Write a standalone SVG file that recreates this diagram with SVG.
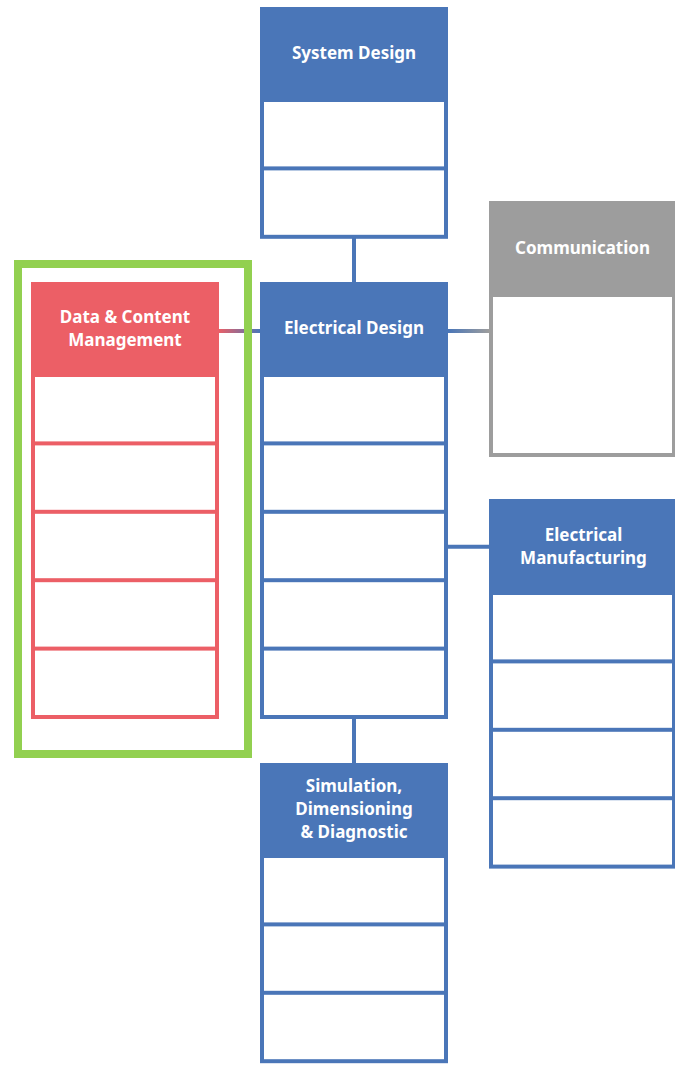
<svg xmlns="http://www.w3.org/2000/svg" width="675" height="1066" viewBox="0 0 675 1066">
<style>
.blue{fill:#4A76B8}
.red{fill:#EC5F66}
.gray{fill:#9D9D9D}
.cell{fill:#FFFFFF}
.t{font-family:"Noto Sans","Open Sans","DejaVu Sans",sans-serif;font-weight:700;font-size:17px;fill:#FFFFFF;text-anchor:middle}
</style>
<defs>
<linearGradient id="gRB" gradientUnits="userSpaceOnUse" x1="218" y1="0" x2="260" y2="0">
<stop offset="0" stop-color="#EC5F66"/><stop offset="1" stop-color="#4A76B8"/>
</linearGradient>
<linearGradient id="gBG" gradientUnits="userSpaceOnUse" x1="448" y1="0" x2="489" y2="0">
<stop offset="0" stop-color="#4A76B8"/><stop offset="1" stop-color="#9D9D9D"/>
</linearGradient>
</defs>
<rect width="675" height="1066" fill="#FFFFFF"/>
<g id="connectors">
<line x1="354" y1="238" x2="354" y2="283" stroke="#4A76B8" stroke-width="4"/>
<line x1="354" y1="718" x2="354" y2="764" stroke="#4A76B8" stroke-width="4"/>
<line x1="218" y1="331" x2="261" y2="331" stroke="url(#gRB)" stroke-width="4"/>
<line x1="447" y1="331" x2="490" y2="331" stroke="url(#gBG)" stroke-width="4"/>
<line x1="447" y1="546.7" x2="490" y2="546.7" stroke="#4A76B8" stroke-width="4"/>
</g>
<g id="highlight">
<rect x="18" y="264" width="230" height="490" fill="none" stroke="#92D050" stroke-width="8"/>
</g>
<g id="system-design">
<rect class="blue" x="260" y="7" width="188" height="231.8"/>
<rect class="cell" x="264" y="102" width="180" height="64.4"/>
<rect class="cell" x="264" y="170.4" width="180" height="64.4"/>
<text class="t" x="354" y="59">System Design</text>
</g>
<g id="electrical-design">
<rect class="blue" x="260" y="282" width="188" height="437"/>
<rect class="cell" x="264" y="377" width="180" height="64.4"/>
<rect class="cell" x="264" y="445.4" width="180" height="64.4"/>
<rect class="cell" x="264" y="513.8" width="180" height="64.4"/>
<rect class="cell" x="264" y="582.2" width="180" height="64.4"/>
<rect class="cell" x="264" y="650.6" width="180" height="64.4"/>
<text class="t" x="354" y="334">Electrical Design</text>
</g>
<g id="data-content-management">
<rect class="red" x="31" y="282" width="188" height="437"/>
<rect class="cell" x="35" y="377" width="180" height="64.4"/>
<rect class="cell" x="35" y="445.4" width="180" height="64.4"/>
<rect class="cell" x="35" y="513.8" width="180" height="64.4"/>
<rect class="cell" x="35" y="582.2" width="180" height="64.4"/>
<rect class="cell" x="35" y="650.6" width="180" height="64.4"/>
<text class="t" x="125" y="322.5">Data &amp; Content</text>
<text class="t" x="125" y="345.5">Management</text>
</g>
<g id="communication">
<rect class="gray" x="489" y="201" width="187" height="256"/>
<rect class="cell" x="493" y="297" width="179" height="156"/>
<text class="t" x="582.5" y="253.5">Communication</text>
</g>
<g id="electrical-manufacturing">
<rect class="blue" x="489" y="499" width="187" height="369.6"/>
<rect class="cell" x="493" y="595" width="179" height="64.4"/>
<rect class="cell" x="493" y="663.4" width="179" height="64.4"/>
<rect class="cell" x="493" y="731.8" width="179" height="64.4"/>
<rect class="cell" x="493" y="800.2" width="179" height="64.4"/>
<text class="t" x="583.5" y="540.5">Electrical</text>
<text class="t" x="583.5" y="563.5">Manufacturing</text>
</g>
<g id="simulation">
<rect class="blue" x="260" y="763" width="188" height="300.2"/>
<rect class="cell" x="264" y="858" width="180" height="64.4"/>
<rect class="cell" x="264" y="926.4" width="180" height="64.4"/>
<rect class="cell" x="264" y="994.8" width="180" height="64.4"/>
<text class="t" x="354" y="791.5">Simulation,</text>
<text class="t" x="354" y="814.5">Dimensioning</text>
<text class="t" x="354" y="837.5">&amp; Diagnostic</text>
</g>
</svg>
